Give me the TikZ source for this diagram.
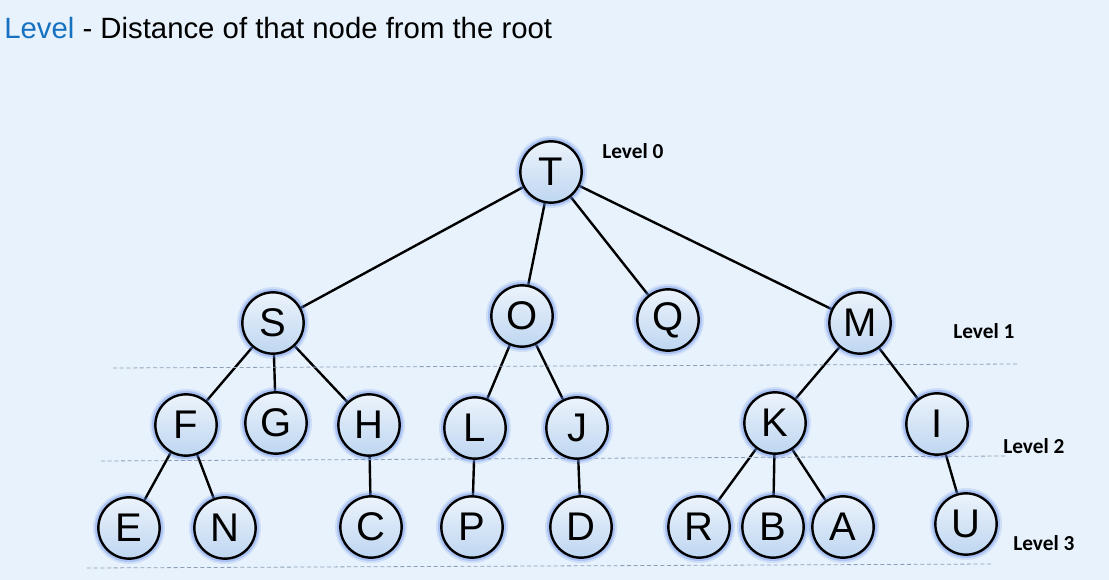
\documentclass[tikz,border=0pt]{standalone}
\usepackage{fontspec}
\setmainfont{Liberation Sans}
\newfontfamily\lvlfont{Carlito}
\usetikzlibrary{backgrounds}
\definecolor{bgblue}{RGB}{231,242,252}
\definecolor{titleblue}{RGB}{22,114,192}
\definecolor{glowblue}{RGB}{100,140,235}
\definecolor{ballblue}{RGB}{190,214,241}
\definecolor{balltop}{RGB}{236,243,251}
\definecolor{dashgray}{RGB}{140,158,182}

\begin{document}
\begin{tikzpicture}[x=0.75pt,y=-0.75pt]
  % some styles
  \tikzset{
    vertex/.style={
      circle,
      minimum size=46pt,
      inner sep=0pt,
      draw,
      line width=1.8pt,
      top color=balltop,
      bottom color=ballblue,
      font=\fontsize{30}{30}\selectfont,
      preaction={draw=glowblue, line width=8pt, opacity=0.18},
      preaction={draw=glowblue, line width=5pt, opacity=0.35}
    },
    edge/.style={line width=1.8pt},
    levelline/.style={dashgray, line width=0.6pt, dash pattern=on 3pt off 2pt},
    levellabel/.style={font=\lvlfont\bfseries\fontsize{16}{16}\selectfont,
      anchor=base west, inner sep=0pt}
  }

\begin{pgfonlayer}{background}
  \fill[bgblue] (0,0) rectangle (1109,580);
\end{pgfonlayer}

% title
\node[anchor=base west, inner sep=0pt, font=\fontsize{22}{22}\selectfont]
  (title) at (4,39) {\textcolor{titleblue}{Level} - Distance of that node from the root};

% level lines
\coordinate (l1a) at (113,368); \coordinate (l1b) at (1018,364);
\coordinate (l2a) at (101,461); \coordinate (l2b) at (1006,456);
\coordinate (l3a) at (87,568);  \coordinate (l3b) at (991,564);
\draw[levelline] (l1a) -- (l1b);
\draw[levelline] (l2a) -- (l2b);
\draw[levelline] (l3a) -- (l3b);

\node[levellabel] (lev0) at (602,159) {Level 0};
\node[levellabel] (lev1) at (953,339) {Level 1};
\node[levellabel] (lev2) at (1003,453) {Level 2};
\node[levellabel] (lev3) at (1013,550) {Level 3};

% the tree
\foreach \n/\x/\y in {T/551/172,
    S/273/323, O/522/316, Q/668/320, M/860/323,
    F/186/425, G/276/423, H/369/425, L/475/428, J/577/428, K/775/423, I/937/424,
    E/129/528, N/225/528, C/371/527, P/472/527, D/581/527,
    R/699/527, B/773/527, A/843/527, U/966/524}
  \node[vertex] (\n) at (\x,\y) {\n};

\begin{scope}[on background layer]
\foreach \a/\b in {T/S, T/O, T/Q, T/M, S/F, S/G, S/H, O/L, O/J, M/K, M/I,
    F/E, F/N, H/C, L/P, J/D, K/R, K/B, K/A, I/U}
  \draw[edge] (\a) -- (\b);
\end{scope}

\end{tikzpicture}
\end{document}
